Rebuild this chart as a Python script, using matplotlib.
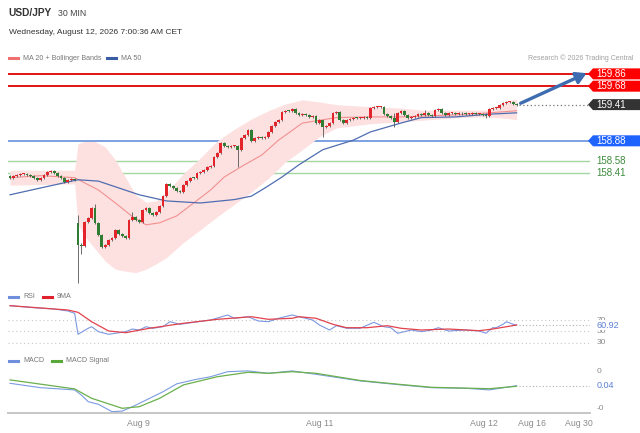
import matplotlib
matplotlib.use('Agg')
import matplotlib.pyplot as plt
from matplotlib.patches import Polygon
from matplotlib.transforms import IdentityTransform

plt.rcParams['font.family'] = ['Liberation Sans', 'DejaVu Sans']

W, H = 640, 433

# 30 min closes, USD/JPY
closes = [158.34, 158.37, 158.38, 158.40, 158.40, 158.38, 158.37, 158.34, 158.31, 158.34,
          158.38, 158.43, 158.44, 158.41, 158.37, 158.34, 158.28, 158.31, 158.32, 158.31,
          157.36, 157.34, 157.69, 157.75, 157.90, 157.68, 157.50, 157.33, 157.36, 157.43,
          157.46, 157.58, 157.52, 157.49, 157.46, 157.72, 157.77, 157.72, 157.69, 157.87,
          157.90, 157.82, 157.80, 157.84, 157.93, 158.07, 158.25, 158.22, 158.19, 158.15,
          158.13, 158.24, 158.29, 158.34, 158.33, 158.41, 158.43, 158.45, 158.50, 158.51,
          158.64, 158.70, 158.85, 158.80, 158.79, 158.80, 158.81, 158.75, 158.92, 158.97,
          159.04, 158.88, 158.92, 158.94, 158.92, 158.94, 159.01, 159.10, 159.16, 159.19,
          159.30, 159.32, 159.31, 159.35, 159.29, 159.26, 159.27, 159.26, 159.23, 159.25,
          159.14, 159.19, 159.08, 159.10, 159.14, 159.29, 159.30, 159.19, 159.14, 159.19,
          159.20, 159.22, 159.21, 159.22, 159.23, 159.22, 159.36, 159.37, 159.38, 159.38,
          159.27, 159.25, 159.22, 159.16, 159.29, 159.32, 159.26, 159.22, 159.23, 159.25,
          159.27, 159.26, 159.29, 159.26, 159.25, 159.33, 159.35, 159.29, 159.26, 159.29,
          159.29, 159.27, 159.29, 159.28, 159.27, 159.27, 159.28, 159.27, 159.27, 159.26,
          159.25, 159.35, 159.36, 159.36, 159.41, 159.44, 159.45, 159.45, 159.42, 159.41]
first_open = 158.36
gap_bar = 20
gap_open = 157.68
# bars with visible long wicks: index -> (high, low)
long_wicks = {20: (157.80, 156.80), 21: (157.38, 157.23), 25: (157.96, 157.66),
              36: (157.84, 157.70), 67: (158.82, 158.50), 92: (159.16, 158.94),
              113: (159.29, 159.08), 122: (159.33, 159.25), 140: (159.29, 159.22)}

band_idx = [0, 19, 20, 22, 25, 28, 31, 34, 37, 40, 43, 46, 51, 56, 61, 66, 71, 76, 81,
            86, 91, 96, 106, 115, 121, 132, 140, 146, 149]
band_upper = [158.45, 158.45, 158.84, 158.87, 158.87, 158.79, 158.60, 158.34, 158.09,
              157.98, 158.00, 158.12, 158.40, 158.63, 158.88, 159.05, 159.20, 159.32,
              159.42, 159.48, 159.45, 159.41, 159.38, 159.36, 159.33, 159.33, 159.33,
              159.46, 159.49]
band_lower = [158.23, 158.25, 157.65, 157.48, 157.30, 157.12, 157.00, 156.97, 156.95,
              157.00, 157.08, 157.17, 157.39, 157.58, 157.77, 157.95, 158.13, 158.33,
              158.57, 158.75, 158.94, 159.07, 159.13, 159.16, 159.18, 159.22, 159.23,
              159.21, 159.19]

ma20_idx = [0, 9, 19, 26, 31, 36, 40, 44, 49, 54, 59, 63, 69, 74, 79, 86, 96, 106, 115,
            131, 141, 149]
ma20_val = [158.34, 158.37, 158.34, 158.16, 157.97, 157.77, 157.65, 157.68, 157.78,
            157.97, 158.16, 158.35, 158.53, 158.67, 158.89, 159.14, 159.22, 159.23,
            159.23, 159.26, 159.29, 159.32]
ma50_idx = [0, 9, 20, 26, 32, 38, 46, 56, 66, 71, 75, 80, 85, 92, 101, 106, 115, 121,
            131, 141, 149]
ma50_val = [158.09, 158.19, 158.31, 158.29, 158.19, 158.09, 158.00, 157.97, 158.02,
            158.07, 158.19, 158.35, 158.53, 158.75, 158.89, 159.01, 159.14, 159.22,
            159.23, 159.27, 159.29]

resistances = [159.86, 159.68]
pivot = 158.88
supports = [158.58, 158.41]
last_price = 159.41
target = 159.86

rsi_idx = [0, 7, 13, 17, 19, 20, 23, 24, 26, 29, 31, 34, 36, 38, 40, 42, 45, 47, 50, 54,
           59, 64, 66, 70, 73, 76, 79, 83, 85, 89, 91, 94, 96, 99, 103, 107, 110, 112,
           114, 118, 121, 124, 126, 129, 134, 138, 140, 142, 143, 145, 146, 148, 149]
rsi_val = [94.9, 91.4, 89.1, 85.7, 81.7, 45.1, 55.6, 58.3, 49.7, 45.1, 46.9, 49.7, 54.3,
           52.6, 58.3, 55.6, 58.3, 67.0, 62.5, 66.0, 70.0, 78.7, 73.0, 75.7, 68.3, 67.0,
           73.0, 78.7, 75.7, 70.0, 61.3, 52.6, 60.1, 55.6, 55.6, 66.0, 58.3, 56.6, 46.9,
           52.6, 49.7, 52.6, 56.6, 50.9, 52.6, 50.9, 46.9, 56.6, 56.6, 62.5, 67.0, 62.5,
           60.92]
rsi_ma_idx = [0, 17, 20, 24, 29, 34, 41, 51, 61, 71, 76, 83, 85, 90, 95, 99, 105, 111,
              115, 121, 129, 138, 142, 149]
rsi_ma_val = [94.9, 87.4, 83.4, 67.0, 50.9, 47.9, 55.6, 64.3, 71.2, 75.7, 71.2, 73.0,
              75.7, 73.0, 62.5, 56.6, 56.6, 60.1, 55.6, 52.6, 54.3, 51.4, 54.3, 61.3]
rsi_levels = [70, 50, 30]

macd_idx = [0, 9, 19, 21, 23, 26, 30, 33, 36, 40, 45, 49, 54, 59, 64, 70, 76, 83, 90,
            103, 115, 124, 134, 141, 149]
macd_val = [0.052, 0.030, 0.019, -0.007, -0.040, -0.053, -0.090, -0.087, -0.065, -0.032,
            0.010, 0.049, 0.069, 0.085, 0.110, 0.114, 0.102, 0.114, 0.097, 0.064, 0.044,
            0.030, 0.027, 0.019, 0.040]
signal_idx = [0, 19, 24, 33, 38, 44, 51, 61, 70, 76, 83, 90, 103, 115, 124, 141, 149]
signal_val = [0.069, 0.024, -0.023, -0.073, -0.065, -0.023, 0.044, 0.085, 0.107, 0.102,
              0.110, 0.102, 0.066, 0.046, 0.032, 0.025, 0.037]
macd_last = 0.04
macd_ticks = [0.11, -0.073]
macd_tick_labels = ['0', '-0']

date_pos = [37.9, 91.2, 139.4, 153.5, 167.2]
date_labels = ['Aug 9', 'Aug 11', 'Aug 12', 'Aug 16', 'Aug 30']

RED_C = '#e3242b'
GREEN_C = '#2e7d32'
GRAY = '#8a8a8a'

fig = plt.figure(figsize=(W / 100, H / 100), dpi=100)
fig.patch.set_facecolor('white')


def px_axes(x0, y0, x1, y1):
    return fig.add_axes([x0 / W, 1 - y1 / H, (x1 - x0) / W, (y1 - y0) / H])


ax = px_axes(8, 65, 590, 287)
ax_rsi = px_axes(8, 300, 590, 350)
ax_macd = px_axes(8, 365, 590, 413)

XL = (-0.6, 170.6)
for a in (ax, ax_rsi, ax_macd):
    a.set_xlim(*XL)
    for s in a.spines.values():
        s.set_visible(False)
    a.set_xticks([])
    a.set_yticks([])
    a.patch.set_alpha(0)

ax.set_ylim(156.74, 159.99)
ax_rsi.set_ylim(17.8, 104.8)
ax_macd.set_ylim(-0.0965, 0.1435)

# levels
for r in resistances:
    ax.axhline(r, color='#e00000', lw=1.3, zorder=1)
ax.axhline(pivot, color='#6690da', lw=1.2, zorder=1)
for s in supports:
    ax.axhline(s, color='#a5d6a0', lw=1.0, zorder=1)

# bollinger + MAs
ax.fill_between(band_idx, band_lower, band_upper, color='#fde1e1', lw=0, zorder=2)
ax.plot(ma20_idx, ma20_val, color='#f29090', lw=0.8, zorder=3)
ax.plot(ma50_idx, ma50_val, color='#4f6db0', lw=0.9, zorder=3)

# candles
n = len(closes)
opens = [first_open] + closes[:-1]
opens[gap_bar] = gap_open
idx = list(range(n))
highs, lows, cols, bottoms, heights = [], [], [], [], []
for i in idx:
    o, c = opens[i], closes[i]
    hi, lo = long_wicks.get(i, (max(o, c) + 0.015, min(o, c) - 0.015))
    highs.append(hi)
    lows.append(lo)
    cols.append(RED_C if c >= o else GREEN_C)
    bottoms.append(min(o, c))
    heights.append(max(abs(c - o), 0.014))
ax.vlines(idx, lows, highs, color='#555555', lw=0.6, zorder=4)
ax.bar(idx, heights, bottom=bottoms, width=0.8, color=cols, lw=0, zorder=5)

ax.plot([n - 1 + 0.8, XL[1]], [last_price, last_price], color='#777777', lw=0.9,
        ls=(0, (1, 2)), zorder=3)
ax.annotate('', xy=(169.6, target + 0.01), xytext=(n - 1 + 1.2, last_price + 0.02),
            arrowprops=dict(arrowstyle='-|>,head_length=0.6,head_width=0.35',
                            color='#3d6cb0', lw=2.4, shrinkA=0, shrinkB=0),
            annotation_clip=False, zorder=6)


def tag(a, val, text, fc):
    yd = a.transData.transform((0, val))[1]
    x0 = a.transAxes.transform((1, 0))[0] - 2
    h = 5.5
    pts = [(x0, yd), (x0 + 5, yd + h), (W, yd + h), (W, yd - h), (x0 + 5, yd - h)]
    fig.add_artist(Polygon(pts, closed=True, transform=IdentityTransform(),
                           fc=fc, ec='none'))
    fig.text(x0 + 8, yd, text, transform=IdentityTransform(), ha='left', va='center',
             fontsize=7, color='white')


tag(ax, resistances[0], f'{resistances[0]:.2f}', '#ff0000')
tag(ax, resistances[1], f'{resistances[1]:.2f}', '#ff0000')
tag(ax, last_price, f'{last_price:.2f}', '#333333')
tag(ax, pivot, f'{pivot:.2f}', '#1f63ff')
ytr = ax.get_yaxis_transform()
for s in supports:
    ax.text(1.011, s, f'{s:.2f}', transform=ytr, ha='left', va='center', fontsize=7,
            color='#3d8b3d')

# RSI
for lv in rsi_levels:
    ax_rsi.axhline(lv, color='#c8c8c8', lw=0.8, ls=(0, (1, 2.5)))
ax_rsi.plot([rsi_idx[-1] + 0.8, XL[1]], [rsi_val[-1]] * 2, color='#b0b0b0', lw=0.8,
            ls=(0, (1, 2)))
ax_rsi.plot(rsi_idx, rsi_val, color='#7b98e0', lw=0.8)
ax_rsi.plot(rsi_ma_idx, rsi_ma_val, color='#e2424c', lw=0.9)
ytr_r = ax_rsi.get_yaxis_transform()
for lv in rsi_levels:
    ax_rsi.text(1.011, lv, str(lv), transform=ytr_r, ha='left', va='center', fontsize=6,
                color=GRAY)
ax_rsi.text(1.011, rsi_val[-1], f'{rsi_val[-1]:.2f}', transform=ytr_r, ha='left',
            va='center', fontsize=6.5, color='#5b7fd6',
            bbox=dict(fc='white', ec='none', pad=0.2))

# MACD
ax_macd.plot([macd_idx[-1] + 0.8, XL[1]], [macd_last] * 2, color='#b0b0b0', lw=0.8,
             ls=(0, (1, 2)))
ax_macd.plot(macd_idx, macd_val, color='#7b9be0', lw=0.8)
ax_macd.plot(signal_idx, signal_val, color='#6ab04c', lw=0.9)
ytr_m = ax_macd.get_yaxis_transform()
for v, lab in zip(macd_ticks, macd_tick_labels):
    ax_macd.text(1.011, v, lab, transform=ytr_m, ha='left', va='center', fontsize=6,
                 color=GRAY)
ax_macd.text(1.011, macd_last, f'{macd_last:.2f}', transform=ytr_m, ha='left',
             va='center', fontsize=6.5, color='#5b7fd6',
             bbox=dict(fc='white', ec='none', pad=0.2))
ax_macd.spines['bottom'].set_visible(True)
ax_macd.spines['bottom'].set_color('#c6c6c6')
ax_macd.spines['bottom'].set_linewidth(1.4)
ax_macd.set_xticks(date_pos)
ax_macd.set_xticklabels(date_labels, fontsize=6.3, color=GRAY)
ax_macd.tick_params(axis='x', length=0, pad=4)

# header texts
fig.text(8 / W, 1 - 13 / H, 'USD/JPY', fontsize=7.3, fontweight='bold', color='#333333',
         va='center')
fig.text(58 / W, 1 - 13 / H, '30 MIN', fontsize=6.3, color='#444444', va='center')
fig.text(9 / W, 1 - 33 / H, 'Wednesday, August 12, 2026 7:00:36 AM CET', fontsize=6,
         color='#333333', va='center')
fig.text(634 / W, 1 - 58 / H, 'Research © 2026 Trading Central', fontsize=5.0,
         color='#a0a0a0', va='center', ha='right')


def legend_item(x, y, color, text):
    fig.add_artist(plt.Line2D([x / W, (x + 9) / W], [1 - y / H] * 2, color=color, lw=2.2,
                              transform=fig.transFigure))
    fig.text((x + 14) / W, 1 - y / H, text, fontsize=5.1, color='#777777', va='center')


legend_item(9, 58, '#f07070', 'MA 20 + Bollinger Bands')
legend_item(107, 58, '#3a5da8', 'MA 50')
legend_item(9, 297, '#6f8fdc', 'RSI')
legend_item(43, 297, '#e0202a', '9MA')
legend_item(9, 361, '#6f8fdc', 'MACD')
legend_item(52, 361, '#5aa83a', 'MACD Signal')

fig.savefig('out.png', dpi=100, facecolor='white')
